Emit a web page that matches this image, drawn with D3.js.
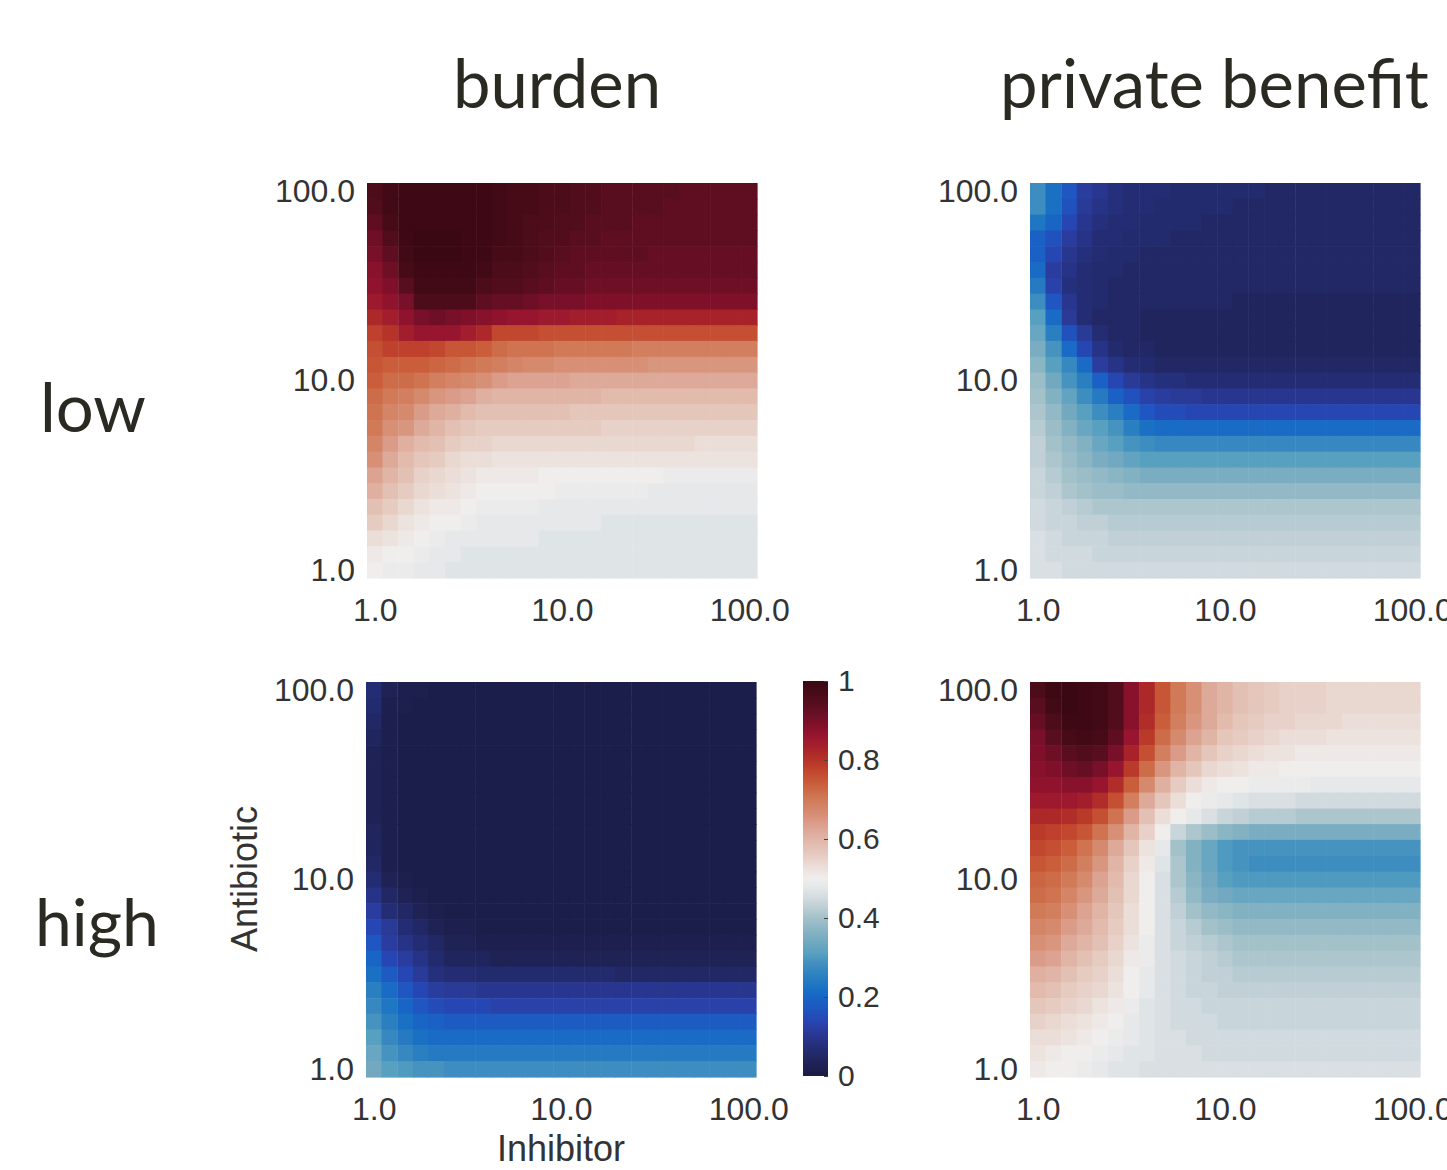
<!DOCTYPE html>
<html>
<head>
<meta charset="utf-8">
<script src="https://cdn.jsdelivr.net/npm/d3@7"></script>
<style>
  body { margin: 0; background: #fff; }
  .tick text { font-family: "Liberation Sans", Arial, sans-serif; fill: #333; }
</style>
</head>
<body>
<div id="chart"></div>
<script>
// dose grid along both axes (25 log spaced steps from 1 to 100)
var doses = [1.0, 1.21, 1.47, 1.78, 2.15, 2.61, 3.16, 3.83, 4.64, 5.62, 6.81, 8.25, 10.0,
    12.1, 14.7, 17.8, 21.5, 26.1, 31.6, 38.3, 46.4, 56.2, 68.1, 82.5, 100.0];
var axisTicks = [1, 10, 100];
var colorbarTicks = [0, 0.2, 0.4, 0.6, 0.8, 1];
var columnTitles = ['burden', 'private benefit'];
var rowTitles = ['low', 'high'];

// values x100; each row is one Antibiotic dose, listed from 100.0 (top) down to 1.0 (bottom),
// columns run over Inhibitor from 1.0 to 100.0
var burdenLow = [
    [96,98,99,99,99,99,99,99,98,97,97,96,96,95,95,94,94,94,94,94,93,93,93,93,93],
    [95,98,99,99,99,99,99,99,98,97,97,96,96,95,95,94,94,94,94,93,93,93,93,93,93],
    [93,97,99,99,99,99,99,99,98,97,96,96,95,95,94,94,94,93,93,93,93,93,93,93,93],
    [91,95,99,100,100,100,99,99,98,97,96,95,95,94,94,93,93,93,93,93,93,93,93,93,93],
    [90,93,98,100,100,100,99,99,97,97,96,95,94,93,93,93,93,93,92,92,92,92,92,92,92],
    [88,91,97,99,99,99,99,98,96,96,95,94,93,93,92,92,92,92,92,92,92,92,92,92,92],
    [87,89,94,98,98,98,98,96,95,95,94,93,92,92,91,91,91,91,91,91,91,91,91,91,91],
    [85,87,90,96,96,96,96,93,92,92,91,90,90,90,89,89,89,89,89,89,89,89,89,89,89],
    [82,84,87,90,91,90,89,88,87,86,86,85,85,84,84,84,83,83,83,83,83,83,83,83,83],
    [78,80,84,86,86,86,84,82,77,77,77,76,76,76,76,76,76,76,76,76,76,76,76,76,76],
    [76,78,78,78,77,75,75,74,72,71,71,71,70,70,70,70,70,69,69,69,69,69,69,69,69],
    [75,74,74,74,73,72,71,70,69,68,67,67,66,66,66,66,66,66,65,65,65,65,65,65,65],
    [74,72,72,71,69,68,67,66,64,63,63,63,63,62,62,62,62,62,62,62,62,62,62,62,62],
    [72,70,69,67,65,64,63,61,60,60,60,60,60,60,60,59,59,59,59,59,59,59,59,59,59],
    [71,68,67,64,62,61,59,58,58,58,58,58,58,57,57,57,57,57,57,57,57,57,57,57,57],
    [70,66,65,62,60,58,57,56,56,56,56,56,56,56,56,55,55,55,55,55,55,55,55,55,55],
    [68,64,61,59,58,56,55,55,54,54,54,54,54,54,54,54,54,54,54,54,54,53,53,53,53],
    [66,62,59,57,56,54,53,53,52,52,52,52,52,52,52,52,52,52,52,52,52,52,52,52,52],
    [63,60,58,55,54,53,52,51,51,51,51,50,50,50,50,50,50,50,50,49,49,49,49,49,49],
    [61,58,56,54,53,52,51,50,50,50,50,50,49,49,49,49,49,49,48,48,48,48,48,48,48],
    [58,56,54,52,51,51,50,49,49,49,49,48,48,48,48,48,48,48,48,48,48,48,48,48,48],
    [56,54,52,51,50,50,49,48,48,48,48,48,48,48,48,47,47,47,47,47,47,47,47,47,47],
    [53,52,51,50,49,48,48,48,48,48,48,47,47,47,47,47,47,47,47,47,47,47,47,47,47],
    [51,50,50,49,48,48,47,47,47,47,47,47,47,47,47,47,47,47,47,47,47,47,47,47,47],
    [50,49,49,48,48,47,47,47,47,47,47,47,47,47,47,47,47,47,47,47,47,47,47,47,47]
];

var benefitLow = [
    [28,22,17,12,10,8,7,7,7,6,6,6,6,6,6,5,5,5,5,5,5,5,5,5,5],
    [28,22,16,11,9,8,7,7,6,6,6,6,6,5,5,5,5,5,5,5,5,5,5,5,5],
    [23,20,14,10,8,7,7,6,6,6,6,5,5,5,5,5,5,5,5,5,5,5,5,5,5],
    [19,16,12,9,7,7,6,6,6,5,5,5,5,5,5,5,5,5,5,5,5,5,5,5,5],
    [19,14,10,8,7,6,6,5,5,5,5,5,5,5,5,5,5,5,5,5,5,5,5,5,5],
    [21,12,9,7,6,6,5,5,5,5,5,5,5,5,5,5,5,5,5,5,5,5,5,5,5],
    [24,13,8,7,6,5,5,5,5,5,5,5,5,5,5,5,5,5,5,5,5,5,5,5,5],
    [28,17,10,7,6,5,5,5,5,5,5,5,5,4,4,4,4,4,4,4,4,4,4,4,4],
    [31,21,11,7,5,5,5,4,4,4,4,4,4,4,4,4,4,4,4,4,4,4,4,4,4],
    [33,25,16,11,7,5,5,4,4,4,4,4,4,4,4,4,4,4,4,4,4,4,4,4,4],
    [35,29,21,14,9,6,5,5,4,4,4,4,4,4,4,4,4,4,4,4,4,4,4,4,4],
    [37,31,27,21,12,9,7,6,5,5,5,5,5,5,5,5,5,5,5,5,5,5,5,5,5],
    [39,34,29,25,19,14,11,9,8,8,7,7,7,7,7,7,7,7,7,7,7,7,7,7,7],
    [40,36,32,28,24,19,16,13,12,11,11,10,10,10,10,10,10,10,10,10,10,10,10,10,10],
    [41,38,34,31,28,25,21,17,15,15,14,14,14,14,14,14,14,14,14,14,14,14,14,14,14],
    [42,39,36,33,31,29,25,22,21,21,21,21,21,21,21,21,21,21,21,21,21,21,21,21,21],
    [43,40,38,36,33,31,29,28,27,27,27,27,27,27,27,27,27,27,27,27,27,27,27,27,27],
    [43,41,39,37,35,34,32,31,31,31,31,31,31,31,31,31,31,31,31,31,31,31,31,31,31],
    [44,42,40,39,38,37,36,35,35,35,35,35,35,35,35,35,35,35,35,35,35,35,35,35,35],
    [44,43,41,40,39,39,38,38,38,38,38,38,38,38,38,38,38,38,38,38,38,38,38,38,38],
    [45,44,43,42,41,41,41,41,41,41,41,41,41,41,41,41,41,41,41,41,41,41,41,41,41],
    [45,44,44,43,43,42,42,42,42,42,42,42,42,42,42,42,42,42,42,42,42,42,42,42,42],
    [46,45,44,44,44,43,43,43,43,43,43,43,43,43,43,43,43,43,43,43,43,43,43,43,43],
    [46,45,45,45,44,44,44,44,44,44,44,44,44,44,44,44,44,44,44,44,44,44,44,44,44],
    [46,46,45,45,45,45,45,45,45,45,45,45,45,45,45,45,45,45,45,45,45,45,45,45,45]
];

var burdenHigh = [
    [7,3,2,2,1,1,1,1,1,1,1,1,1,1,1,1,1,1,1,1,1,1,1,1,1],
    [6,2,2,1,1,1,1,1,1,1,1,1,1,1,1,1,1,1,1,1,1,1,1,1,1],
    [5,2,1,1,1,1,1,1,1,1,1,1,1,1,1,1,1,1,1,1,1,1,1,1,1],
    [4,2,1,1,1,1,1,1,1,1,1,1,1,1,1,1,1,1,1,1,1,1,1,1,1],
    [3,2,1,1,1,1,1,1,1,1,1,1,1,1,1,1,1,1,1,1,1,1,1,1,1],
    [3,2,1,1,1,1,1,1,1,1,1,1,1,1,1,1,1,1,1,1,1,1,1,1,1],
    [3,2,1,1,1,1,1,1,1,1,1,1,1,1,1,1,1,1,1,1,1,1,1,1,1],
    [3,2,1,1,1,1,1,1,1,1,1,1,1,1,1,1,1,1,1,1,1,1,1,1,1],
    [3,2,1,1,1,1,1,1,1,1,1,1,1,1,1,1,1,1,1,1,1,1,1,1,1],
    [4,2,1,1,1,1,1,1,1,1,1,1,1,1,1,1,1,1,1,1,1,1,1,1,1],
    [4,2,1,1,1,1,1,1,1,1,1,1,1,1,1,1,1,1,1,1,1,1,1,1,1],
    [5,2,1,1,1,1,1,1,1,1,1,1,1,1,1,1,1,1,1,1,1,1,1,1,1],
    [7,3,2,1,1,1,1,1,1,1,1,1,1,1,1,1,1,1,1,1,1,1,1,1,1],
    [9,5,3,2,1,1,1,1,1,1,1,1,1,1,1,1,1,1,1,1,1,1,1,1,1],
    [12,7,5,3,2,1,1,1,1,1,1,1,1,1,1,1,1,1,1,1,1,1,1,1,1],
    [14,11,7,5,3,2,2,1,1,1,1,1,1,1,1,1,1,1,1,1,1,1,1,1,1],
    [17,12,9,7,5,3,3,2,2,2,2,2,2,2,2,2,2,2,2,2,2,2,2,2,2],
    [20,14,12,9,6,4,4,4,3,3,3,3,3,3,3,3,3,3,3,3,3,3,3,3,3],
    [22,18,14,11,8,7,7,6,6,6,6,6,6,6,6,6,5,5,5,5,5,5,5,5,5],
    [25,21,17,14,12,11,11,10,10,10,10,10,10,10,10,10,10,10,10,10,10,10,10,10,10],
    [27,23,20,17,15,14,14,14,13,13,13,13,13,13,13,13,13,13,13,13,13,13,13,13,13],
    [29,25,22,20,19,18,18,18,18,18,18,18,18,18,18,18,18,18,18,18,18,18,18,18,18],
    [31,27,24,22,21,21,21,21,21,21,21,21,21,21,21,21,21,21,21,21,21,21,21,21,21],
    [33,29,27,25,24,24,24,24,24,24,24,24,24,24,24,24,24,24,24,24,24,24,24,24,24],
    [34,31,30,29,29,28,28,28,28,28,28,28,28,28,28,28,28,28,28,28,28,28,28,28,28]
];

var benefitHigh = [
    [96,99,100,99,98,95,88,82,75,70,66,62,60,58,57,56,55,55,55,54,54,54,54,54,54],
    [94,98,100,99,98,95,88,82,75,70,66,62,60,58,57,56,55,55,55,54,54,54,54,54,54],
    [92,96,99,99,98,95,88,81,74,69,65,62,59,57,56,55,55,54,54,54,53,53,53,53,53],
    [90,94,97,98,97,93,86,79,72,67,63,60,57,56,55,54,53,53,53,52,52,52,52,52,52],
    [89,91,94,95,94,90,83,76,69,64,60,57,55,54,53,52,52,51,51,51,51,51,51,51,51],
    [88,89,91,92,90,86,79,72,65,60,57,54,53,52,51,51,50,50,50,50,50,50,50,50,50],
    [87,87,88,88,86,81,74,67,61,56,53,51,50,50,49,49,49,49,48,48,48,48,48,48,48],
    [85,85,85,84,81,76,69,62,57,53,50,49,48,47,46,46,46,45,45,45,45,45,45,45,45],
    [82,82,81,79,76,71,64,58,53,50,48,46,44,43,42,42,42,41,41,41,41,41,41,41,41],
    [79,78,77,75,71,66,60,55,50,44,41,39,37,36,35,35,35,35,35,35,35,35,35,35,35],
    [77,76,74,71,67,62,57,52,48,40,36,33,30,29,29,29,29,29,29,29,29,29,29,29,29],
    [75,74,72,69,65,60,55,51,47,41,36,33,30,29,28,28,28,28,28,28,28,28,28,28,28],
    [73,72,70,67,63,59,54,50,46,41,37,34,31,30,30,30,30,30,30,30,30,30,30,30,30],
    [72,71,68,65,62,58,54,50,46,42,38,35,34,33,33,33,33,33,33,33,33,33,33,33,33],
    [70,69,66,63,60,57,53,50,46,43,40,38,37,36,36,36,36,36,36,36,36,36,36,36,36],
    [68,67,64,62,59,56,53,50,46,44,42,40,39,38,38,38,38,38,38,38,38,38,38,38,38],
    [66,65,62,60,58,55,52,49,46,44,43,42,41,40,40,40,40,40,40,40,40,40,40,40,40],
    [64,63,60,58,56,54,51,49,46,45,44,43,42,41,41,41,41,41,41,41,41,41,41,41,41],
    [61,60,58,56,55,53,50,48,46,45,44,43,43,42,42,42,42,42,42,42,42,42,42,42,42],
    [59,58,56,55,54,52,50,48,46,45,44,44,43,43,43,43,43,43,43,43,43,43,43,43,43],
    [57,56,55,54,52,51,49,47,46,45,45,44,44,44,44,44,44,44,44,44,44,44,44,44,44],
    [55,54,53,52,51,50,48,47,46,45,45,45,44,44,44,44,44,44,44,44,44,44,44,44,44],
    [53,53,52,51,50,49,48,47,46,46,45,45,45,45,45,45,45,45,45,45,45,45,45,45,45],
    [52,51,50,50,49,48,47,47,46,46,46,45,45,45,45,45,45,45,45,45,45,45,45,45,45],
    [51,50,50,49,48,47,47,46,46,46,46,46,46,46,46,46,46,46,46,46,46,46,46,46,46]
];

// diverging colour map (navy - blue - white - red - maroon)
var cmapStops = [0, .03, .05, .08, .10, .12, .14, .17, .20, .22, .25, .28, .31, .34, .37, .40, .43, .46, .48, .50,
    .53, .56, .60, .63, .66, .70, .74, .77, .80, .83, .86, .89, .92, .95, .98, 1];
var cmapColors = ['#1a1b45', '#1e2254', '#212865', '#25307c', '#28368f', '#2a3d9f', '#2647b3', '#1f56c2', '#1865c6',
    '#1a71c4', '#2a7fc0', '#3e8dc0', '#58a0c0', '#72a9c1', '#8ab5c3', '#a3c1c9', '#c0d0d6', '#d9dfe3', '#e6e8ea',
    '#efeeed', '#ebded8', '#e6cbc1', '#e0b5a6', '#dca392', '#d78f76', '#d07a58', '#ca5e3a', '#c2472f', '#b63328',
    '#a8222a', '#98152f', '#80102a', '#660f24', '#520d1c', '#420a16', '#3a0812'];

var color = d3.scaleLinear()
    .domain(cmapStops)
    .range(cmapColors)
    .interpolate(d3.interpolateRgb)
    .clamp(true);

var width = 1447, height = 1170;
var pw = 390, ph = 395;

var svg = d3.select("#chart")
    .append("svg")
    .attr("width", width)
    .attr("height", height);

svg.append("rect")
    .attr("width", "100%")
    .attr("height", "100%")
    .attr("fill", "white");

function drawPanel(grid, x0, y0) {
    var cw = pw / doses.length, ch = ph / doses.length;

    var x = d3.scaleLog()
        .domain([1, 100])
        .range([x0 + cw / 2, x0 + pw - cw / 2]);

    var y = d3.scaleLog()
        .domain([1, 100])
        .range([y0 + ph - ch / 2, y0 + ch / 2]);

    var cells = [];
    grid.forEach(function(row, r) {
        row.forEach(function(v, c) {
            cells.push({ inh: doses[c], ab: doses[doses.length - 1 - r], v: v / 100 });
        });
    });

    var g = svg.append("g");

    g.selectAll("rect")
        .data(cells)
        .enter()
        .append("rect")
        .attr("x", function(d) { return x(d.inh) - cw / 2; })
        .attr("y", function(d) { return y(d.ab) - ch / 2; })
        .attr("width", cw + 0.6)
        .attr("height", ch + 0.6)
        .attr("fill", function(d) { return color(d.v); });

    // x axis
    var xa = svg.append("g")
        .attr("transform", "translate(0," + (y0 + ph) + ")")
        .call(d3.axisBottom(x).tickValues(axisTicks).tickFormat(d3.format(".1f")).tickSize(0).tickPadding(20));
    xa.select(".domain").remove();
    xa.selectAll("text").style("font-size", "32px");

    // y axis
    var ya = svg.append("g")
        .attr("transform", "translate(" + x0 + ",0)")
        .call(d3.axisLeft(y).tickValues(axisTicks).tickFormat(d3.format(".1f")).tickSize(0).tickPadding(12));
    ya.select(".domain").remove();
    ya.selectAll("text").style("font-size", "32px");
}

drawPanel(burdenLow, 367, 183);
drawPanel(benefitLow, 1030, 183);
drawPanel(burdenHigh, 366, 682);
drawPanel(benefitHigh, 1030, 682);

// titles
var titleFont = "Lato, 'Open Sans', sans-serif";
svg.append("text")
    .attr("x", 557).attr("y", 108)
    .attr("text-anchor", "middle")
    .style("font-family", titleFont)
    .style("font-size", "67px")
    .style("fill", "#2a2922")
    .text(columnTitles[0]);
svg.append("text")
    .attr("x", 1000).attr("y", 108)
    .style("font-family", titleFont)
    .style("font-size", "67px")
    .style("fill", "#2a2922")
    .text(columnTitles[1]);
svg.append("text")
    .attr("x", 40).attr("y", 432)
    .style("font-family", titleFont)
    .style("font-size", "67px")
    .style("fill", "#2a2922")
    .text(rowTitles[0]);
svg.append("text")
    .attr("x", 35).attr("y", 946)
    .style("font-family", titleFont)
    .style("font-size", "66px")
    .style("fill", "#2a2922")
    .text(rowTitles[1]);

// axis labels
svg.append("text")
    .attr("transform", "translate(257,879) rotate(-90)")
    .attr("text-anchor", "middle")
    .style("font-family", "'Liberation Sans', Arial, sans-serif")
    .style("font-size", "36px")
    .style("fill", "#333")
    .text("Antibiotic");
svg.append("text")
    .attr("x", 561).attr("y", 1161)
    .attr("text-anchor", "middle")
    .style("font-family", "'Liberation Sans', Arial, sans-serif")
    .style("font-size", "36px")
    .style("fill", "#333")
    .text("Inhibitor");

// colorbar
var cbX = 803, cbW = 25, cbTop = 681, cbBottom = 1076;
var grad = svg.append("defs")
    .append("linearGradient")
    .attr("id", "cbar")
    .attr("x1", "0").attr("y1", "1")
    .attr("x2", "0").attr("y2", "0");
grad.selectAll("stop")
    .data(cmapStops)
    .enter()
    .append("stop")
    .attr("offset", function(d) { return d; })
    .attr("stop-color", function(d) { return color(d); });

svg.append("rect")
    .attr("x", cbX).attr("y", cbTop)
    .attr("width", cbW).attr("height", cbBottom - cbTop)
    .attr("fill", "url(#cbar)");

var cy = d3.scaleLinear().domain([0, 1]).range([cbBottom, cbTop]);
var ca = svg.append("g")
    .attr("transform", "translate(" + (cbX + cbW) + ",0)")
    .call(d3.axisRight(cy).tickValues(colorbarTicks).tickFormat(d3.format("")).tickSizeInner(-4).tickSizeOuter(0).tickPadding(10));
ca.select(".domain").remove();
ca.selectAll("line").attr("stroke", "#444");
ca.selectAll("text").style("font-size", "30px");
</script>
</body>
</html>
